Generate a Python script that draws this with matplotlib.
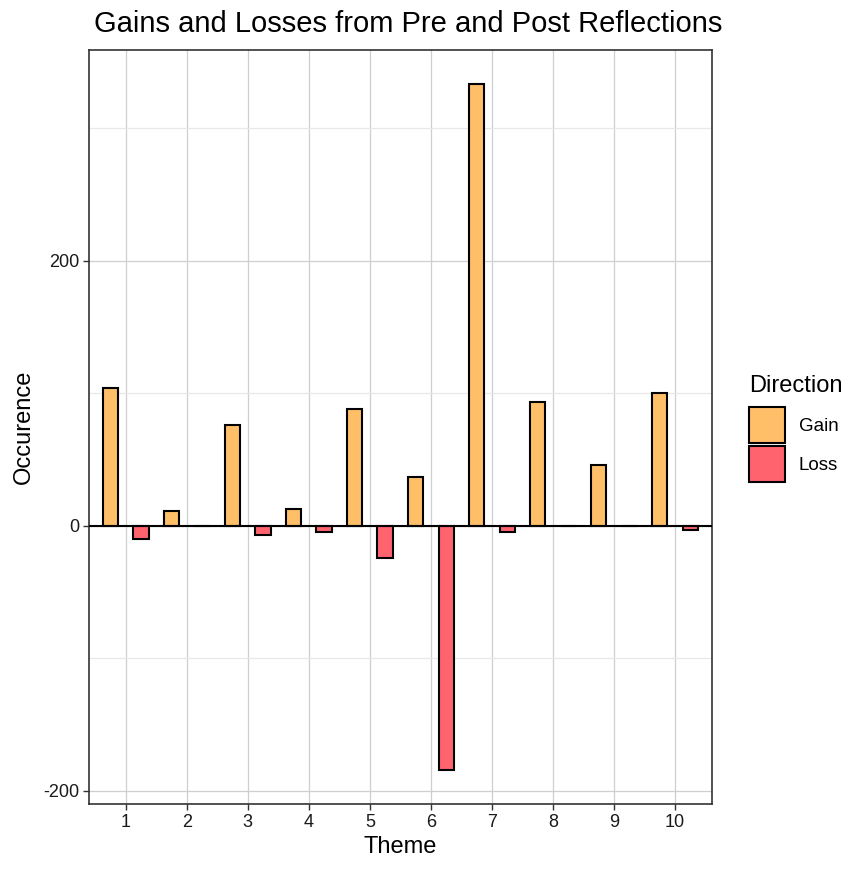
import numpy as np
import matplotlib
matplotlib.use("Agg")
import matplotlib.pyplot as plt
from matplotlib.patches import Patch

plt.rcParams['font.family'] = ['Liberation Sans', 'DejaVu Sans']
plt.rcParams['axes.unicode_minus'] = False

# values
themes = np.arange(1, 11)
gain = [104, 11, 76, 13, 88, 37, 333, 93, 46, 100]
loss = [-10, 0, -7, -5, -24, -184, -5, 0, 0, -3]

gain_col = '#FFBF69'
loss_col = '#FF646E'

W, H = 851, 869
fig = plt.figure(figsize=(W / 100, H / 100), dpi=100)
ax = fig.add_axes([89 / W, 1 - 804 / H, (711.7 - 89) / W, (804 - 50) / H])

bw = 0.25
ax.bar(themes - 0.25, gain, width=bw, color=gain_col, edgecolor='black', linewidth=1.5, zorder=3)
ax.bar(themes + 0.25, loss, width=bw, color=loss_col, edgecolor='black', linewidth=1.5, zorder=3)
ax.axhline(0, color='black', linewidth=1.5, zorder=4)

ax.set_xlim(0.4, 10.6)
ax.set_ylim(-209.85, 358.85)
ax.set_xticks(themes)
ax.set_yticks([-200, 0, 200])
ax.set_yticks([-100, 100, 300], minor=True)
ax.grid(which='major', color='#cfcfcf', linewidth=0.9, zorder=0)
ax.grid(which='minor', axis='y', color='#e8e8e8', linewidth=0.9, zorder=0)
ax.tick_params(which='minor', length=0)
ax.tick_params(which='major', length=4, width=1, color='#333333', labelsize=13,
               labelcolor='#1a1a1a', pad=3)
for s in ax.spines.values():
    s.set_color('#333333')
    s.set_linewidth(1.2)

ax.set_xlabel('Theme', fontsize=17, labelpad=4)
ax.set_ylabel('Occurence', fontsize=17, labelpad=6)

fig.text(94 / W, 1 - 32 / H, 'Gains and Losses from Pre and Post Reflections',
         fontsize=21, ha='left', va='baseline')

# legend: title drawn separately so the gap below it matches
fig.text(749 / W, 1 - 392 / H, 'Direction', fontsize=17, ha='left', va='baseline')
handles = [Patch(facecolor=gain_col, edgecolor='black', linewidth=1.5),
           Patch(facecolor=loss_col, edgecolor='black', linewidth=1.5)]
leg = fig.legend(handles, ['Gain', 'Loss'], loc='upper left',
                 bbox_to_anchor=(749 / W, 1 - 407 / H), frameon=False,
                 fontsize=13.5, handlelength=1.9, handleheight=2.55,
                 labelspacing=0.2, handletextpad=0.75, borderpad=0, borderaxespad=0)

fig.savefig('out.png', dpi=100)
